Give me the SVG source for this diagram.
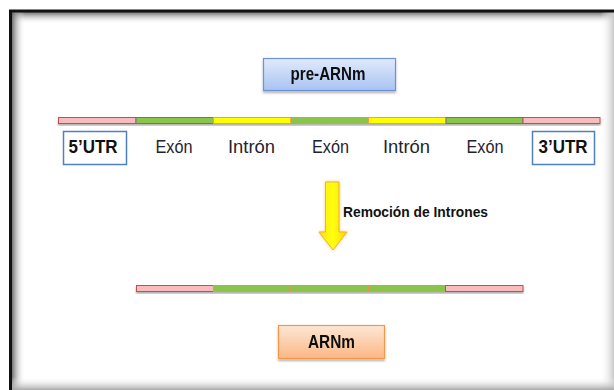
<svg xmlns="http://www.w3.org/2000/svg" width="614" height="390" viewBox="0 0 614 390">
<defs>
<linearGradient id="gTop" x1="0" y1="0" x2="0" y2="1"><stop offset="0" stop-color="#6a6a6a"/><stop offset="1" stop-color="#ffffff" stop-opacity="0"/></linearGradient>
<linearGradient id="gLeft" x1="0" y1="0" x2="1" y2="0"><stop offset="0" stop-color="#5a5a5a"/><stop offset="1" stop-color="#ffffff" stop-opacity="0"/></linearGradient>
<linearGradient id="gRight" x1="0" y1="0" x2="1" y2="0"><stop offset="0" stop-color="#ffffff" stop-opacity="0"/><stop offset="1" stop-color="#c8c8c8"/></linearGradient>
<linearGradient id="gBottom" x1="0" y1="0" x2="0" y2="1"><stop offset="0" stop-color="#ffffff" stop-opacity="0"/><stop offset="1" stop-color="#a8a8a8"/></linearGradient>
<linearGradient id="gBlue" x1="0" y1="0" x2="0" y2="1"><stop offset="0" stop-color="#e0eafc"/><stop offset="1" stop-color="#a9c3f2"/></linearGradient>
<linearGradient id="gOrange" x1="0" y1="0" x2="0" y2="1"><stop offset="0" stop-color="#fde7d6"/><stop offset="1" stop-color="#fbb784"/></linearGradient>
<linearGradient id="gYellow" x1="0" y1="0" x2="1" y2="0"><stop offset="0" stop-color="#ffe600"/><stop offset="0.5" stop-color="#ffff10"/><stop offset="1" stop-color="#ffd800"/></linearGradient>
<filter id="shadow" x="-10%" y="-20%" width="120%" height="150%"><feDropShadow dx="0" dy="2" stdDeviation="1.2" flood-color="#000" flood-opacity="0.3"/></filter>
<filter id="glow" x="-50%" y="-20%" width="200%" height="140%"><feGaussianBlur in="SourceAlpha" stdDeviation="1.5" result="b"/><feFlood flood-color="#f6a623" flood-opacity="0.6"/><feComposite in2="b" operator="in" result="g"/><feMerge><feMergeNode in="g"/><feMergeNode in="SourceGraphic"/></feMerge></filter>
</defs>
<style>
.pink{fill:#f9bcbc;stroke:#c0504d;stroke-width:1}
.grn{fill:#8ac44a;stroke:#8064a2;stroke-width:1}
.grn2{fill:#8ac44a;stroke:#e9963c;stroke-width:1}
.yel{fill:#ffff00;stroke:#f5a030;stroke-width:1}
.lbl{font-family:"Liberation Sans",Arial,sans-serif;font-size:18px;fill:#1f2330;text-anchor:middle}
.b{font-family:"Liberation Sans",Arial,sans-serif;font-weight:bold;fill:#111;text-anchor:middle}
.utr{fill:#fff;stroke:#4f81bd;stroke-width:1.5}
</style>
<rect width="614" height="390" fill="#fff"/>
<g id="frame">
<rect x="11" y="12" width="603" height="12" fill="url(#gTop)"/>
<rect x="11" y="12" width="14" height="378" fill="url(#gLeft)"/>
<rect x="600" y="12" width="14" height="378" fill="url(#gRight)"/>
<rect x="11" y="377" width="603" height="13" fill="url(#gBottom)"/>
<path d="M10.5 390 V11 H614" fill="none" stroke="#111" stroke-width="3"/>
</g>
<g id="pre-arnm" filter="url(#shadow)">
<rect x="263.5" y="58.5" width="132" height="32" fill="url(#gBlue)" stroke="#6d93d4" stroke-width="1.2"/>
<text x="328" y="79.5" class="b" font-size="17.5" textLength="75" lengthAdjust="spacingAndGlyphs">pre-ARNm</text>
</g>
<g id="pre-bar" filter="url(#shadow)">
<rect x="58.5" y="117.5" width="77.5" height="6" class="pink"/>
<rect x="136" y="117.5" width="77.5" height="6" class="grn"/>
<rect x="213.5" y="117.5" width="77.5" height="6" class="yel"/>
<rect x="291" y="117.5" width="77.5" height="6" class="grn2"/>
<rect x="368.5" y="117.5" width="77.5" height="6" class="yel"/>
<rect x="446" y="117.5" width="77" height="6" class="grn"/>
<rect x="523" y="117.5" width="77" height="6" class="pink"/>
</g>
<g id="utr5">
<rect x="63.5" y="131.5" width="63" height="33" class="utr"/>
<text x="93" y="153" class="b" font-size="19" textLength="49" lengthAdjust="spacingAndGlyphs">5’UTR</text>
</g>
<g id="exon1"><text x="174" y="152.5" class="lbl" textLength="37" lengthAdjust="spacingAndGlyphs">Exón</text></g>
<g id="intron1"><text x="251.5" y="152.5" class="lbl" textLength="47" lengthAdjust="spacingAndGlyphs">Intrón</text></g>
<g id="exon2"><text x="330.5" y="152.5" class="lbl" textLength="37" lengthAdjust="spacingAndGlyphs">Exón</text></g>
<g id="intron2"><text x="406.5" y="152.5" class="lbl" textLength="47" lengthAdjust="spacingAndGlyphs">Intrón</text></g>
<g id="exon3"><text x="485" y="152.5" class="lbl" textLength="37" lengthAdjust="spacingAndGlyphs">Exón</text></g>
<g id="utr3">
<rect x="532.5" y="131.5" width="62" height="33" class="utr"/>
<text x="563" y="153" class="b" font-size="19" textLength="49" lengthAdjust="spacingAndGlyphs">3’UTR</text>
</g>
<g id="connectors">
<path d="M325.5 182 H339 V232 H347 L333 250 L319 232 H325.5 Z" fill="url(#gYellow)" stroke="#f2b035" stroke-width="1" filter="url(#glow)"/>
<text x="343" y="217" font-family="'Liberation Sans',Arial,sans-serif" font-weight="bold" font-size="15.5" fill="#111" textLength="145" lengthAdjust="spacingAndGlyphs">Remoción de Intrones</text>
</g>
<g id="arnm-bar" filter="url(#shadow)">
<rect x="136.5" y="285.5" width="77" height="6" class="pink"/>
<rect x="213.5" y="285.5" width="77.5" height="6" class="grn2"/>
<rect x="291" y="285.5" width="77.5" height="6" class="grn2"/>
<rect x="368.5" y="285.5" width="77" height="6" class="grn2"/>
<rect x="445.5" y="285.5" width="77.5" height="6" class="pink"/>
</g>
<g id="arnm" filter="url(#shadow)">
<rect x="278.5" y="325.5" width="106" height="33" fill="url(#gOrange)" stroke="#f79646" stroke-width="1.2"/>
<text x="331.5" y="347.5" class="b" font-size="17.5" textLength="47" lengthAdjust="spacingAndGlyphs">ARNm</text>
</g>
</svg>
